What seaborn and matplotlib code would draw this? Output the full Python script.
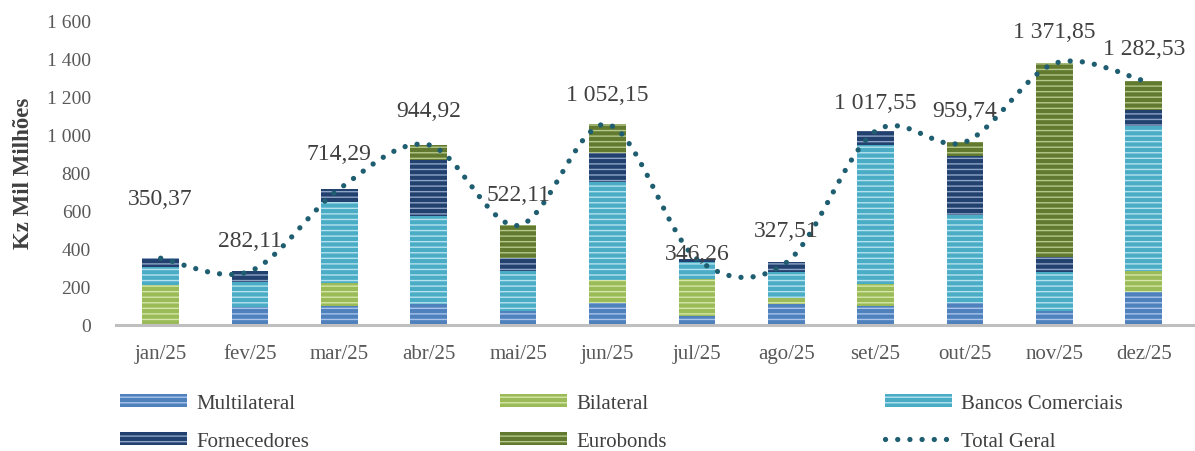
import numpy as np
import matplotlib
matplotlib.use("Agg")
import matplotlib.pyplot as plt
from matplotlib.path import Path
from matplotlib.patches import PathPatch, Patch
from matplotlib.lines import Line2D
import seaborn as sns

months = ["jan/25", "fev/25", "mar/25", "abr/25", "mai/25", "jun/25",
          "jul/25", "ago/25", "set/25", "out/25", "nov/25", "dez/25"]
multilateral = [0, 95, 100, 110, 75, 115, 45, 110, 98, 115, 72, 171]
bilateral = [210, 0, 120, 0, 0, 120, 198, 32, 117, 0, 0, 114]
bancos = [95, 130, 424, 460, 210, 513, 86, 138, 731, 462, 204, 761]
fornecedores = [45, 57, 70, 296, 66, 153, 17, 48, 72, 308, 82, 82]
eurobonds = [0, 0, 0, 79, 171, 151, 0, 0, 0, 75, 1014, 154]
total_geral = [350.37, 282.11, 714.29, 944.92, 522.11, 1052.15,
               346.26, 327.51, 1017.55, 959.74, 1371.85, 1282.53]
# vertical offset of each total label above the bar top (pixels)
label_dy = [60, 31, 35, 34, 31, 30, 5, 32, 29, 32, 32, 32]

series = [
    ("Multilateral", multilateral, "#4f81bd", "#a9c4ea"),
    ("Bilateral", bilateral, "#9bbb59", "#d4e6a8"),
    ("Bancos Comerciais", bancos, "#4bacc6", "#b4e2ef"),
    ("Fornecedores", fornecedores, "#23416e", "#8da4c6"),
    ("Eurobonds", eurobonds, "#627a30", "#b5c78a"),
]
line_color = "#1f5e70"
dots = (0, (0.01, 2.3))

sns.set_theme(style="white")
plt.rcParams["font.family"] = ["Liberation Serif", "DejaVu Serif"]
plt.rcParams["hatch.linewidth"] = 1.0

fig = plt.figure(figsize=(11.95, 4.52), dpi=100)
ax = fig.add_axes([116 / 1195, 1 - 326 / 452, 1 - 116 / 1195, 305 / 452])

# stacked bars: draw cumulative heights from the top layer down
cum = np.cumsum([s[1] for s in series], axis=0)
for k in range(len(series) - 1, -1, -1):
    name, _, face, stripe = series[k]
    sns.barplot(x=months, y=cum[k], color=face, saturation=1, width=0.41,
                hatch="---", ax=ax, zorder=2)
    for bar in ax.containers[-1]:
        bar.set_edgecolor(stripe)
        bar.set_linewidth(0)

# smoothed total line (Catmull-Rom as cubic Bezier)
pts = np.column_stack([np.arange(len(total_geral)), total_geral]).astype(float)
verts = [pts[0]]
codes = [Path.MOVETO]
n = len(pts)
for i in range(n - 1):
    p0 = pts[i - 1] if i > 0 else pts[i]
    p1, p2 = pts[i], pts[i + 1]
    p3 = pts[i + 2] if i + 2 < n else pts[i + 1]
    verts += [p1 + (p2 - p0) / 6, p2 - (p3 - p1) / 6, p2]
    codes += [Path.CURVE4] * 3
ax.add_patch(PathPatch(Path(verts, codes), fill=False, edgecolor=line_color,
                       linewidth=3.8, linestyle=dots, capstyle="round", zorder=3))


def fmt(v):
    return f"{v:,.2f}".replace(",", " ").replace(".", ",")


for i, v in enumerate(total_geral):
    ax.annotate(fmt(v), xy=(i, v), xytext=(0, label_dy[i]), textcoords="offset pixels",
                ha="center", va="center", fontsize=17, color="#404040", zorder=4)

ax.set_xlim(-0.5, 11.574)
ax.set_ylim(0, 1600)
ax.set_yticks(range(0, 1601, 200))
ax.set_yticklabels([f"{t:,}".replace(",", " ") for t in range(0, 1601, 200)])
ax.tick_params(axis="y", length=0, labelsize=14, colors="#595959", pad=18)
ax.tick_params(axis="x", length=0, labelsize=15, colors="#595959", pad=14)
ax.set_xlabel("")
ax.set_ylabel("Kz Mil Milhões", fontsize=16.5, fontweight="bold", color="#404040", labelpad=9)
for side in ["top", "right", "left"]:
    ax.spines[side].set_visible(False)
ax.spines["bottom"].set_color("#bfbfbf")
ax.spines["bottom"].set_linewidth(2.2)
ax.grid(False)

handles = [Patch(facecolor=s[2], edgecolor=s[3], hatch="---", linewidth=0) for s in series]
handles.append(Line2D([], [], color=line_color, linewidth=3.8, linestyle=dots,
                      dash_capstyle="round"))
labels = [s[0] for s in series] + ["Total Geral"]
columns = [(0, 3, 120), (1, 4, 500), (2, 5, 885)]
for a, b, x0 in columns:
    fig.legend([handles[a], handles[b]], [labels[a], labels[b]],
               loc="upper left", bbox_to_anchor=(x0 / 1195, 1 - 395 / 452),
               frameon=False, fontsize=15, handlelength=3.2, handletextpad=0.45,
               handleheight=0.6, labelspacing=0.9, borderpad=0, borderaxespad=0,
               labelcolor="#404040")

fig.savefig("out.png", dpi=100)
